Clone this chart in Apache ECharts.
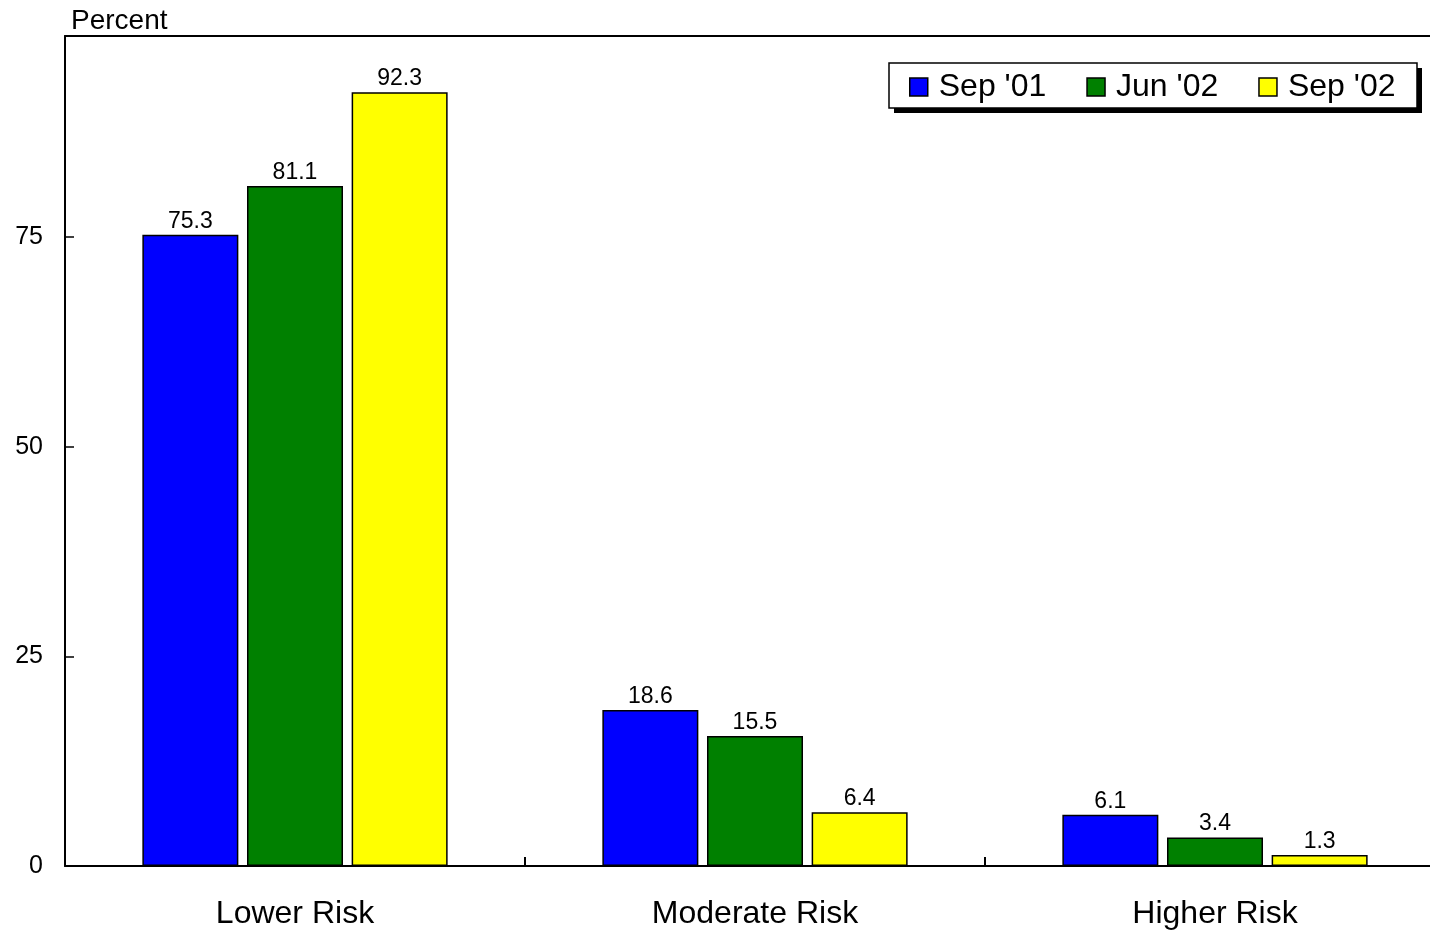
<!DOCTYPE html>
<html>
<head>
<meta charset="utf-8">
<script src="https://cdn.jsdelivr.net/npm/echarts@6/dist/echarts.min.js"></script>
<style>
  html, body { margin: 0; padding: 0; background: #fff; }
  #chart { width: 1430px; height: 932px; }
</style>
</head>
<body>
<div id="chart"></div>
<script>
  // data
  var categories = ['Lower Risk', 'Moderate Risk', 'Higher Risk'];
  var seriesNames = ["Sep '01", "Jun '02", "Sep '02"];
  var sep01 = [75.3, 18.6, 6.1];
  var jun02 = [81.1, 15.5, 3.4];
  var sep02 = [92.3, 6.4, 1.3];
  var colors = ['#0000ff', '#008000', '#ffff00'];

  var font = 'Arial, "Liberation Sans", sans-serif';

  function bar(name, data, color) {
    return {
      name: name,
      type: 'bar',
      data: data,
      barWidth: 96,
      barGap: '9%',
      itemStyle: { color: color, borderColor: '#000', borderWidth: 1.5 },
      label: {
        show: true,
        position: 'top',
        distance: 2,
        color: '#000',
        fontFamily: font,
        fontSize: 23,
        formatter: function (p) { return p.value.toFixed(1); }
      }
    };
  }

  var myChart = echarts.init(document.getElementById('chart'));
  myChart.setOption({
    animation: false,
    textStyle: { fontFamily: font },
    // plot runs a little past the right edge, as in the original
    grid: { left: 65, right: -15, top: 36, bottom: 66, containLabel: false, outerBoundsMode: 'none' },
    graphic: [
      // legend frame with its drop shadow
      { type: 'rect', shape: { x: 894, y: 68, width: 528, height: 45 }, style: { fill: '#000' }, z: 90 },
      { type: 'rect', shape: { x: 889, y: 63, width: 528, height: 45 }, style: { fill: '#fff', stroke: '#000', lineWidth: 1.5 }, z: 91 }
    ],
    legend: {
      data: seriesNames,
      left: 909,
      top: 71,
      padding: 0,
      z: 100,
      icon: 'rect',
      itemWidth: 18,
      itemHeight: 18,
      itemGap: 40,
      itemStyle: { borderColor: '#000', borderWidth: 1.5 },
      textStyle: { color: '#000', fontSize: 32, fontFamily: font, padding: [0, 0, 0, 6] }
    },
    xAxis: [{
      type: 'category',
      data: categories,
      axisLine: { lineStyle: { color: '#000', width: 2 } },
      axisTick: { show: true, inside: true, length: 9, lineStyle: { color: '#000', width: 2 } },
      axisLabel: { color: '#000', fontSize: 32, fontFamily: font, margin: 32 }
    }, {
      type: 'category',
      position: 'top',
      data: categories,
      axisLine: { show: true, lineStyle: { color: '#000', width: 2 } },
      axisTick: { show: false },
      axisLabel: { show: false }
    }],
    yAxis: {
      type: 'value',
      min: 0,
      max: 99,
      interval: 25,
      name: 'Percent',
      nameLocation: 'end',
      nameGap: 1,
      nameTextStyle: { color: '#000', fontSize: 28, fontFamily: font, align: 'left', padding: [0, 0, 0, 6] },
      axisLine: { show: true, lineStyle: { color: '#000', width: 2 } },
      axisTick: { show: true, inside: true, length: 9, lineStyle: { color: '#000', width: 1.5 } },
      axisLabel: { color: '#000', fontSize: 25, fontFamily: font, margin: 22, showMaxLabel: false,
        formatter: function (v) { return v % 25 === 0 ? v : ''; } },
      splitLine: { show: false }
    },
    series: [
      bar(seriesNames[0], sep01, colors[0]),
      bar(seriesNames[1], jun02, colors[1]),
      bar(seriesNames[2], sep02, colors[2])
    ]
  });
</script>
</body>
</html>
